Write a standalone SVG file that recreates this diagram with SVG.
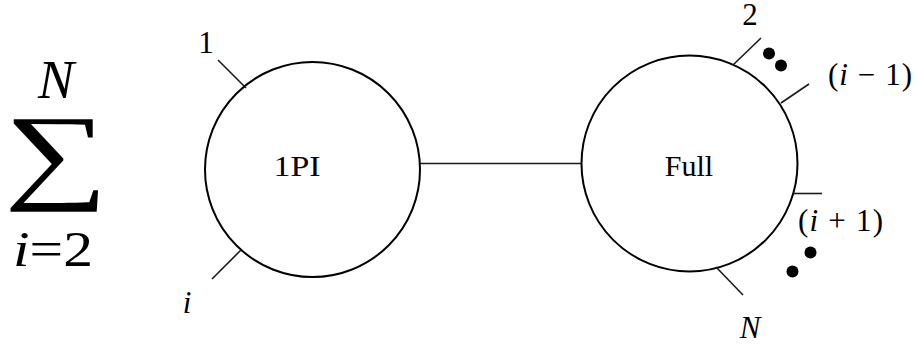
<svg xmlns="http://www.w3.org/2000/svg" width="917" height="345" viewBox="0 0 917 345">
<style>
text{font-family:"Liberation Serif","Times New Roman",serif;fill:#000}
.lbl{font-size:31px}
.it{font-style:italic}
.blob{fill:none;stroke:#000;stroke-width:2}
.leg{stroke:#1a1a1a;stroke-width:1.6;fill:none}
.dot{fill:#000}
</style>
<rect width="917" height="345" fill="#fff"/>
<g id="sum">
<text x="56" y="98" font-size="54" font-style="italic" text-anchor="middle">N</text>
<text transform="translate(56,189) scale(1.38,1)" font-size="106" text-anchor="middle">∑</text>
<text x="13" y="266" font-size="50" textLength="80" lengthAdjust="spacingAndGlyphs"><tspan font-style="italic">i</tspan>=2</text>
</g>
<g id="connectors">
<line class="leg" x1="420" y1="163.5" x2="582" y2="163.5"/>
</g>
<g id="onePI">
<circle class="blob" cx="312.5" cy="169.5" r="107.5"/>
<line class="leg" x1="218" y1="60" x2="246" y2="88"/>
<line class="leg" x1="241" y1="250" x2="212" y2="279"/>
<text class="lbl" x="206" y="53" text-anchor="middle">1</text>
<text class="lbl it" x="187" y="313" text-anchor="middle">i</text>
<text x="297" y="176" font-size="30" text-anchor="middle" textLength="47" lengthAdjust="spacingAndGlyphs">1PI</text>
</g>
<g id="full">
<circle class="blob" cx="689.5" cy="163.5" r="108"/>
<line class="leg" x1="733" y1="65" x2="761" y2="38"/>
<line class="leg" x1="781" y1="103" x2="809" y2="84"/>
<line class="leg" x1="793" y1="193.5" x2="822" y2="193.5" stroke-width="2.4"/>
<line class="leg" x1="716" y1="267" x2="743" y2="295"/>
<circle class="dot" cx="769" cy="53.5" r="6"/>
<circle class="dot" cx="781" cy="65.5" r="6"/>
<circle class="dot" cx="810.5" cy="252.5" r="6"/>
<circle class="dot" cx="792.5" cy="271.5" r="6"/>
<text x="689" y="176" font-size="30" text-anchor="middle">Full</text>
<text class="lbl" x="750" y="25" text-anchor="middle">2</text>
<text class="lbl" x="828" y="85" textLength="84" lengthAdjust="spacing">(<tspan font-style="italic">i</tspan> − 1)</text>
<text class="lbl" x="798" y="231" textLength="85" lengthAdjust="spacing">(<tspan font-style="italic">i</tspan> + 1)</text>
<text class="lbl it" x="750" y="338" text-anchor="middle">N</text>
</g>
</svg>
